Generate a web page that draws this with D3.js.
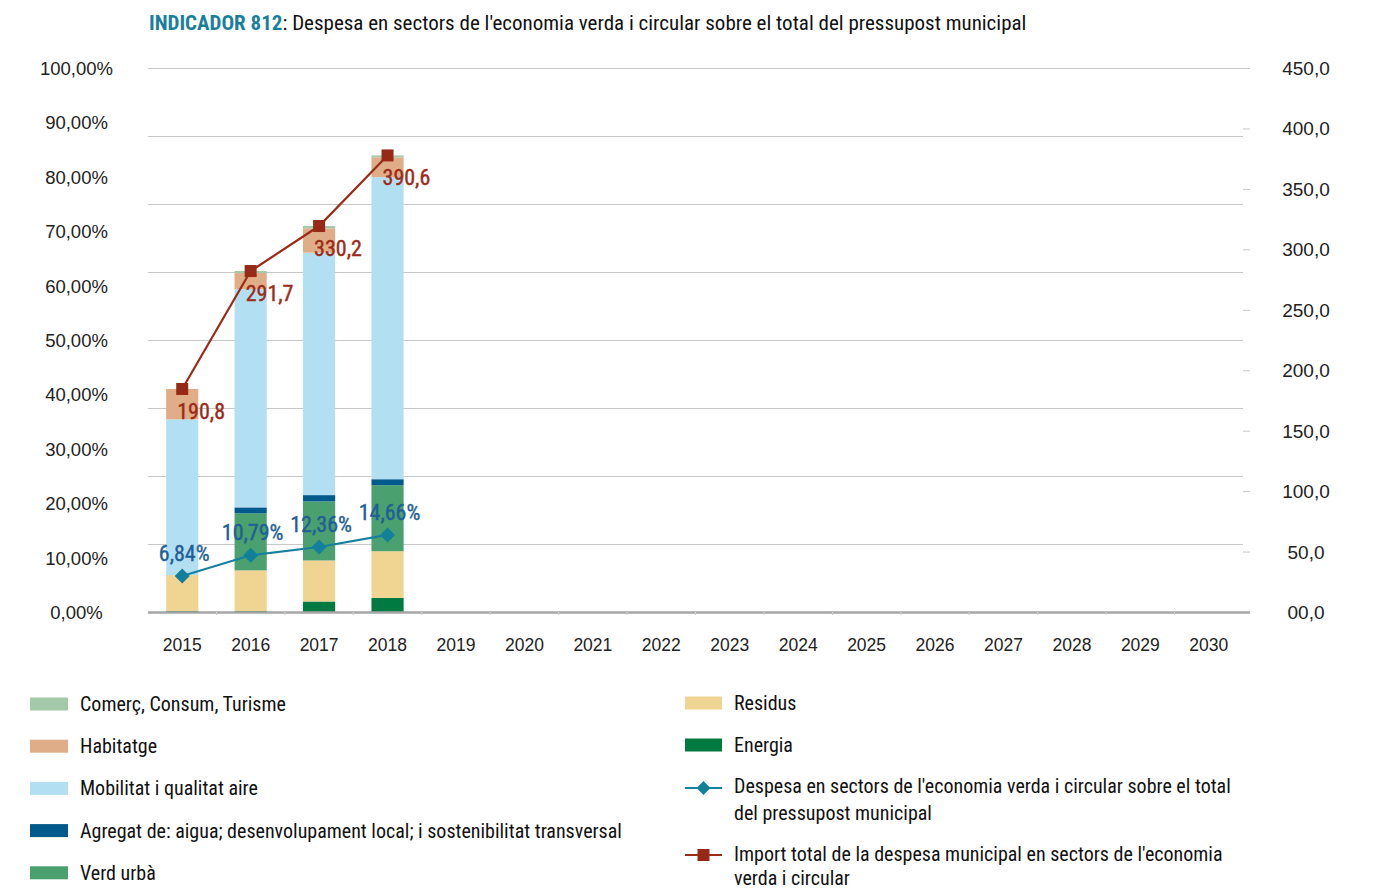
<!DOCTYPE html>
<html><head><meta charset="utf-8">
<script src="https://cdn.jsdelivr.net/npm/d3@7"></script>
<style>
body{margin:0;background:#fff;}
svg{display:block;}
.cond{font-family:"Liberation Sans Narrow","Arial Narrow","Roboto Condensed",sans-serif;}
.reg{font-family:"Liberation Sans",Arial,sans-serif;}
</style></head>
<body><svg id="c" width="1373" height="891"></svg>
<script>
const years = ["2015","2016","2017","2018","2019","2020","2021","2022","2023","2024","2025","2026","2027","2028","2029","2030"];
const dataYears = ["2015","2016","2017","2018"];
const energia   = [0.8, 0.8, 9.0, 12.0];
const residus   = [30.8, 34.8, 35.1, 40.0];
const verdUrba  = [0, 48.8, 50.5, 56.5];
const agregat   = [0, 5.1, 5.4, 5.1];
const mobilitat = [133.2, 186.8, 207.4, 258.4];
const habitatge = [26.0, 13.7, 20.8, 16.9];
const comerc    = [0, 1.7, 2.0, 1.7];
const importTotal = [190.8, 291.7, 330.2, 390.6];
const percentTotal = [6.84, 10.79, 12.36, 14.66];
const leftTicks = [0,10,20,30,40,50,60,70,80,90,100];
const rightTicks = [0,50,100,150,200,250,300,350,400,450];
const gridTicks = [12.5,25,37.5,50,62.5,75,87.5];

const seriesDefs = [
  {key:"energia", name:"Energia", color:"#007a40", vals:energia},
  {key:"residus", name:"Residus", color:"#f0d592", vals:residus},
  {key:"verd", name:"Verd urbà", color:"#4aa06e", vals:verdUrba},
  {key:"agregat", name:"Agregat de: aigua; desenvolupament local; i sostenibilitat transversal", color:"#005a8c", vals:agregat},
  {key:"mobilitat", name:"Mobilitat i qualitat aire", color:"#b3dff2", vals:mobilitat},
  {key:"habitatge", name:"Habitatge", color:"#dfae88", vals:habitatge},
  {key:"comerc", name:"Comerç, Consum, Turisme", color:"#a3c9a8", vals:comerc}
];
const table = dataYears.map((y,i)=>{const o={year:y}; seriesDefs.forEach(s=>o[s.key]=s.vals[i]); return o;});

const svg = d3.select("#c");
const pL=148, pR=1243, pT=68, pB=612;
const x = d3.scaleBand().domain(years).range([pL,pR]).paddingInner(0.53).paddingOuter(0.265);
const xc = d => x(d)+x.bandwidth()/2;
// axis label scales
const yL = d3.scaleLinear().domain([0,100]).range([pB,pT]);
const yR = d3.scaleLinear().domain([0,450]).range([pB,pT]);
// data scales (as plotted in reference)
const yAmt = d3.scaleLinear().domain([0,450]).range([pB,86]);
const yPct = d3.scaleLinear().domain([0,100]).range([pB,86]);

// title
const t = svg.append("text").attr("class","cond").attr("x",149).attr("y",30).attr("font-size",21);
t.append("tspan").attr("fill","#1a7f9c").attr("font-weight","bold").text("INDICADOR 812");
t.append("tspan").attr("fill","#111").text(": Despesa en sectors de l'economia verda i circular sobre el total del pressupost municipal");

// gridlines
svg.append("g").selectAll("line").data(gridTicks).join("line")
  .attr("x1",pL).attr("x2",pR).attr("y1",d=>yL(d)+0.5).attr("y2",d=>yL(d)+0.5)
  .attr("stroke","#c8c8c8").attr("stroke-width",1);
svg.append("line").attr("x1",pL).attr("x2",1250).attr("y1",yL(100)+0.5).attr("y2",yL(100)+0.5).attr("stroke","#c8c8c8");

// left axis labels
svg.append("g").selectAll("text").data(leftTicks).join("text").attr("class","reg")
  .attr("x",76.5).attr("y",d=>yL(d)+7).attr("text-anchor","middle").attr("font-size",18.5).attr("fill","#222")
  .text(d=>d3.format(".2f")(d).replace(".",",")+"%");

// right axis ticks and labels
svg.append("g").selectAll("line").data(rightTicks.filter(d=>d>0 && d<450)).join("line")
  .attr("x1",1243).attr("x2",1250).attr("y1",d=>yR(d)+0.5).attr("y2",d=>yR(d)+0.5).attr("stroke","#c8c8c8");
svg.append("g").selectAll("text").data(rightTicks).join("text").attr("class","reg")
  .attr("x",1306).attr("y",d=>yR(d)+7).attr("text-anchor","middle").attr("font-size",19).attr("fill","#222")
  .text(d=> d===0 ? "00,0" : d3.format(".1f")(d).replace(".",","));

// stacked bars
const stack = d3.stack().keys(seriesDefs.map(s=>s.key))(table);
svg.append("g").selectAll("g").data(stack).join("g")
  .attr("fill",(d,i)=>seriesDefs[i].color)
  .selectAll("rect").data(d=>d).join("rect")
  .attr("x",d=>x(d.data.year)).attr("width",x.bandwidth())
  .attr("y",d=>yAmt(d[1])).attr("height",d=>yAmt(d[0])-yAmt(d[1]));

// baseline and x ticks
svg.append("line").attr("x1",pL).attr("x2",1250).attr("y1",pB+0.5).attr("y2",pB+0.5).attr("stroke","#a6a6a6").attr("stroke-width",2.5);
svg.append("g").selectAll("line").data(years.slice(1)).join("line")
  .attr("x1",d=>x(d)-x.step()*0.265).attr("x2",d=>x(d)-x.step()*0.265).attr("y1",pB).attr("y2",pB+3).attr("stroke","#cfcfcf");
svg.append("g").selectAll("text").data(years).join("text").attr("class","reg")
  .attr("x",d=>xc(d)).attr("y",651).attr("text-anchor","middle").attr("font-size",17.5).attr("fill","#222").text(d=>d);

// red line (import total)
const red = "#9c2a18";
const redPts = dataYears.map((y,i)=>[xc(y), yAmt(importTotal[i])]);
svg.append("path").attr("d",d3.line()(redPts)).attr("fill","none").attr("stroke",red).attr("stroke-width",2.2);
svg.append("g").selectAll("rect").data(redPts).join("rect")
  .attr("x",d=>d[0]-6).attr("y",d=>d[1]-6).attr("width",12).attr("height",12).attr("fill","#962a16");
svg.append("g").selectAll("text").data(dataYears).join("text").attr("class","cond")
  .attr("x",d=>xc(d)-5).attr("y",(d,i)=>yAmt(importTotal[i])+30).attr("font-size",22).attr("fill",red)
  .attr("stroke",red).attr("stroke-width",0.4)
  .text((d,i)=>d3.format(".1f")(importTotal[i]).replace(".",","));

// blue line (percent)
const blue = "#17809e";
const bluePts = dataYears.map((y,i)=>[xc(y), yPct(percentTotal[i])]);
svg.append("path").attr("d",d3.line()(bluePts)).attr("fill","none").attr("stroke",blue).attr("stroke-width",2.2);
svg.append("g").selectAll("path").data(bluePts).join("path")
  .attr("d",d=>`M${d[0]},${d[1]-7.5}L${d[0]+7.5},${d[1]}L${d[0]},${d[1]+7.5}L${d[0]-7.5},${d[1]}Z`).attr("fill","#12809a");
svg.append("g").selectAll("text").data(dataYears).join("text").attr("class","cond")
  .attr("x",d=>xc(d)+2).attr("y",(d,i)=>yPct(percentTotal[i])-15).attr("text-anchor","middle").attr("font-size",22).attr("fill","#1f5f96")
  .attr("stroke","#1f5f96").attr("stroke-width",0.4)
  .text((d,i)=>d3.format(".2f")(percentTotal[i]).replace(".",",")+"%");

// legend
const legLeft = ["comerc","habitatge","mobilitat","agregat","verd"];
const lg = svg.append("g");
legLeft.forEach((k,i)=>{
  const s = seriesDefs.find(d=>d.key===k);
  const cy = 704 + i*42.2;
  lg.append("rect").attr("x",30).attr("y",cy-6.5).attr("width",38).attr("height",13).attr("fill",s.color);
  lg.append("text").attr("class","cond").attr("x",80).attr("y",cy+7).attr("font-size",20).attr("fill","#111").text(s.name);
});
["residus","energia"].forEach((k,i)=>{
  const s = seriesDefs.find(d=>d.key===k);
  const cy = 703 + i*42;
  lg.append("rect").attr("x",685).attr("y",cy-6.5).attr("width",37).attr("height",13).attr("fill",s.color);
  lg.append("text").attr("class","cond").attr("x",734).attr("y",cy+7).attr("font-size",20).attr("fill","#111").text(s.name);
});
{
  const cy = 788;
  lg.append("line").attr("x1",685).attr("x2",722).attr("y1",cy).attr("y2",cy).attr("stroke",blue).attr("stroke-width",2.2);
  lg.append("path").attr("d",`M703.5,${cy-7}L710.5,${cy}L703.5,${cy+7}L696.5,${cy}Z`).attr("fill","#12809a");
  const tx = lg.append("text").attr("class","cond").attr("font-size",20).attr("fill","#111");
  tx.append("tspan").attr("x",734).attr("y",cy+5).text("Despesa en sectors de l'economia verda i circular sobre el total");
  tx.append("tspan").attr("x",734).attr("y",cy+32).text("del pressupost municipal");
}
{
  const cy = 855;
  lg.append("line").attr("x1",685).attr("x2",722).attr("y1",cy).attr("y2",cy).attr("stroke",red).attr("stroke-width",2.2);
  lg.append("rect").attr("x",697.5).attr("y",cy-6).attr("width",12).attr("height",12).attr("fill","#962a16");
  const tx = lg.append("text").attr("class","cond").attr("font-size",20).attr("fill","#111");
  tx.append("tspan").attr("x",734).attr("y",cy+6).text("Import total de la despesa municipal en sectors de l'economia");
  tx.append("tspan").attr("x",734).attr("y",cy+30).text("verda i circular");
}
</script></body></html>
